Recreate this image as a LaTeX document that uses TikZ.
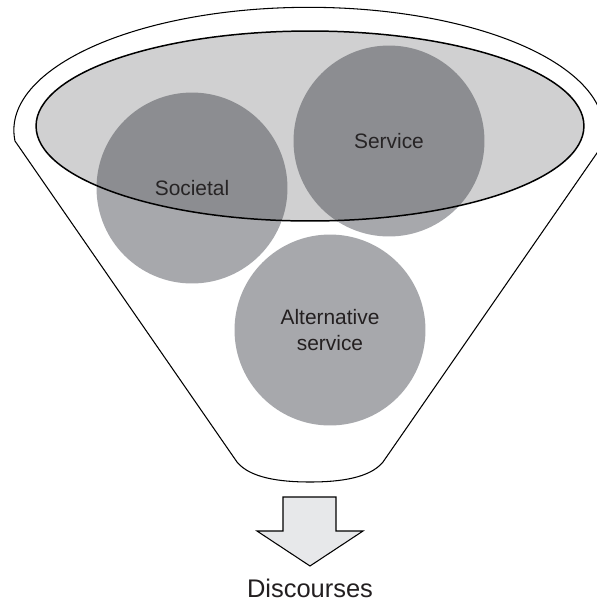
\documentclass[tikz,border=0pt]{standalone}
\usepackage{fontspec}
\setmainfont{Liberation Sans}
\usepackage{xcolor}
\usetikzlibrary{shapes, positioning}

\definecolor{ink}{RGB}{35,31,32}
\definecolor{ballgray}{RGB}{167,168,172}
\definecolor{rimgray}{RGB}{52,53,56}
\definecolor{arrowgray}{RGB}{231,232,234}

\begin{document}
\begin{tikzpicture}[x=0.02cm, y=0.02cm,
        ball/.style={circle, fill=ballgray, minimum size=3.82cm, inner sep=0pt, align=center, text=ink, font=\fontsize{11.9}{15.3}\selectfont},
        rim/.style={ellipse, draw=black, line width=0.85pt, fill=rimgray, fill opacity=0.23, minimum width=10.96cm, minimum height=3.8cm, inner sep=0pt},
        funnel/.style={draw=black, line width=0.6pt}]
        \useasboundingbox (0,0) rectangle (597,-600);

        \draw[funnel] (237,-462) -- (15,-141)
            arc[start angle=185, end angle=-8, x radius=5.9cm, y radius=2.46cm]
            -- (383,-462) .. controls (370,-478) and (340,-482) .. (310,-482)
            .. controls (280,-482) and (250,-478) .. cycle;

        \node[ball] at (192,-188) (societal) {Societal};
        \node[ball] at (389,-141) (service) {Service};
        \node[ball] at (330,-330) (alternative) {Alternative\\service};

        \node[rim] at (310,-126) (rim) {};

        \draw[funnel, fill=arrowgray] (283,-497) -- (336,-497) -- (336,-531) -- (363,-531)
            -- (310,-566) -- (257,-531) -- (283,-531) -- cycle;

        \node[anchor=base, text=ink, font=\fontsize{14.5}{17}\selectfont] at (310,-597) (discourses) {Discourses};
    \end{tikzpicture}
\end{document}
